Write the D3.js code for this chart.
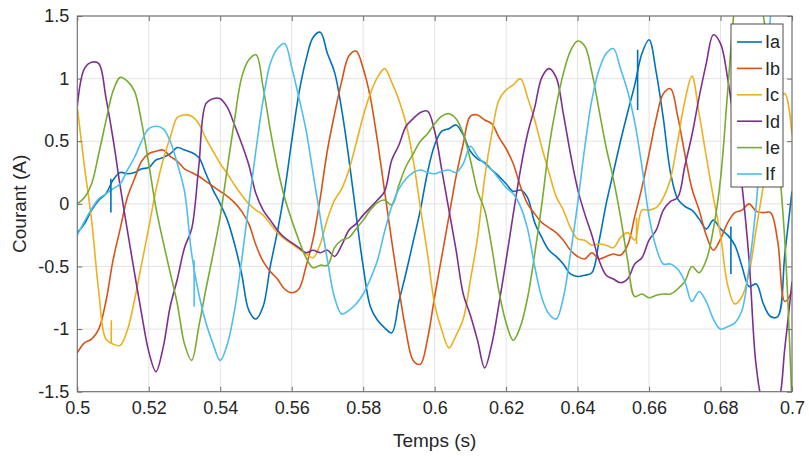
<!DOCTYPE html>
<html>
<head>
<meta charset="utf-8">
<script src="https://cdn.jsdelivr.net/npm/d3@7"></script>
<style>
  html, body { margin: 0; padding: 0; background: #ffffff; }
  svg { display: block; }
  text { font-family: "Liberation Sans", Arial, Helvetica, sans-serif; }
</style>
</head>
<body>
<svg id="chart" width="809" height="457"></svg>
<script>
// ---- data (sampled every 0.002 s from 0.5 s to 0.7 s) ----
const tStart = 0.5;
const tStep = 0.002;
const seriesNames = ["Ia", "Ib", "Ic", "Id", "Ie", "If"];
const seriesColors = ["#0072BD", "#D95319", "#EDB120", "#7E2F8E", "#77AC30", "#4DBEEE"];

const Ia = [-0.23,-0.16,-0.05,0.03,0.08,0.19,0.25,0.24,0.25,0.28,0.29,0.35,0.37,0.40,0.45,0.43,0.41,
  0.37,0.24,0.11,0.00,-0.13,-0.32,-0.56,-0.85,-0.92,-0.82,-0.50,-0.22,0.10,0.50,0.88,1.15,1.33,
  1.37,1.20,1.05,0.75,0.36,-0.08,-0.50,-0.82,-0.93,-0.99,-1.03,-0.78,-0.55,-0.30,-0.05,0.25,0.47,
  0.58,0.60,0.63,0.55,0.42,0.36,0.33,0.27,0.22,0.16,0.10,0.11,0.05,-0.15,-0.27,-0.37,
  -0.42,-0.48,-0.56,-0.58,-0.57,-0.55,-0.30,0.00,0.25,0.50,0.73,0.95,1.20,1.31,1.05,0.68,0.25,
  0.04,-0.02,-0.05,-0.12,-0.20,-0.13,-0.20,-0.25,-0.33,-0.50,-0.66,-0.64,-0.80,-0.90,-0.90,-0.40,0.10];

const Ib = [-1.19,-1.11,-1.08,-1.00,-0.78,-0.45,-0.20,0.05,0.20,0.34,0.40,0.42,0.43,0.38,0.34,0.28,0.25,
  0.22,0.18,0.14,0.10,0.06,0.01,-0.06,-0.16,-0.33,-0.46,-0.54,-0.60,-0.68,-0.71,-0.68,-0.50,-0.28,
  0.05,0.43,0.72,0.98,1.18,1.22,1.08,0.85,0.50,0.10,-0.30,-0.68,-1.02,-1.25,-1.28,-1.08,-0.74,
  -0.42,-0.10,0.22,0.48,0.70,0.71,0.67,0.64,0.53,0.44,0.32,0.14,0.00,-0.08,-0.15,-0.19,
  -0.23,-0.29,-0.37,-0.42,-0.44,-0.39,-0.44,-0.42,-0.40,-0.41,-0.33,-0.10,0.13,0.40,0.68,0.88,0.92,
  0.70,0.40,0.12,-0.05,-0.25,-0.37,-0.28,-0.15,-0.07,-0.05,0.00,-0.06,-0.07,-0.07,-0.30,-0.78,-0.70];

const Ic = [0.77,0.30,-0.13,-0.70,-1.08,-1.12,-1.13,-1.01,-0.77,-0.48,-0.19,0.11,0.35,0.53,0.69,0.71,0.70,
  0.64,0.52,0.42,0.32,0.24,0.15,0.07,0.00,-0.05,-0.09,-0.16,-0.23,-0.28,-0.32,-0.36,-0.40,-0.43,
  -0.32,-0.12,0.03,0.12,0.27,0.48,0.70,0.88,1.01,1.08,0.97,0.83,0.64,0.35,-0.03,-0.40,-0.80,
  -1.01,-1.15,-1.05,-0.92,-0.61,-0.27,0.21,0.56,0.83,0.91,0.95,1.00,0.85,0.67,0.45,0.25,
  0.06,-0.05,-0.19,-0.28,-0.29,-0.33,-0.32,-0.33,-0.35,-0.27,-0.23,-0.29,-0.05,-0.05,-0.03,0.05,0.20,
  0.50,0.82,1.02,0.72,0.38,0.05,-0.25,-0.65,-0.80,-0.74,-0.55,-0.20,0.15,0.50,0.80,0.88,0.55];

const Id = [0.78,1.08,1.13,1.12,0.85,0.52,0.14,-0.21,-0.55,-0.88,-1.18,-1.34,-1.15,-0.82,-0.60,-0.35,-0.20,
  0.30,0.80,0.84,0.84,0.77,0.63,0.48,0.31,0.08,-0.05,-0.13,-0.21,-0.27,-0.31,-0.35,-0.39,-0.37,
  -0.39,-0.37,-0.42,-0.33,-0.21,-0.16,-0.09,-0.03,0.03,0.10,0.35,0.47,0.62,0.68,0.73,0.74,0.58,
  0.27,-0.05,-0.37,-0.72,-0.89,-1.09,-1.31,-1.12,-0.80,-0.45,-0.08,0.27,0.56,0.77,1.01,1.08,
  1.01,0.72,0.40,0.12,-0.08,-0.25,-0.45,-0.57,-0.60,-0.63,-0.60,-0.48,-0.43,-0.29,-0.21,-0.05,0.02,
  0.05,0.30,0.55,0.85,1.12,1.35,1.28,1.00,0.60,0.15,-0.45,-1.30,-1.60,-1.65,-1.60,-1.15,-0.62];

const Ie = [0.00,0.05,0.16,0.40,0.66,0.90,1.01,0.98,0.90,0.65,0.32,-0.03,-0.30,-0.55,-0.80,-1.12,-1.25,
  -0.98,-0.68,-0.40,-0.10,0.29,0.67,1.01,1.15,1.19,0.93,0.59,0.29,0.05,-0.13,-0.29,-0.43,-0.51,
  -0.49,-0.49,-0.35,-0.29,-0.27,-0.20,-0.13,-0.05,0.01,0.03,-0.01,0.15,0.30,0.40,0.50,0.56,0.64,
  0.70,0.72,0.68,0.56,0.35,0.10,-0.05,-0.35,-0.70,-0.95,-1.09,-0.98,-0.75,-0.40,0.00,0.45,
  0.78,1.04,1.22,1.30,1.26,1.05,0.75,0.45,0.20,-0.10,-0.45,-0.74,-0.72,-0.75,-0.73,-0.72,-0.72,
  -0.68,-0.62,-0.50,-0.55,-0.45,-0.20,0.20,0.90,1.60,2.00,2.10,1.90,1.50,1.10,0.45,-0.30,-1.60];

const If = [-0.25,-0.14,-0.04,0.04,0.08,0.12,0.16,0.27,0.37,0.50,0.60,0.62,0.60,0.50,0.32,0.10,-0.40,
  -0.72,-0.95,-1.12,-1.25,-1.12,-0.85,-0.45,0.00,0.43,0.83,1.12,1.24,1.28,1.09,0.85,0.59,0.24,
  -0.11,-0.45,-0.75,-0.88,-0.85,-0.80,-0.72,-0.60,-0.45,-0.22,-0.02,0.12,0.20,0.25,0.27,0.25,0.24,
  0.26,0.27,0.25,0.32,0.46,0.38,0.32,0.27,0.20,0.13,0.08,-0.02,-0.20,-0.50,-0.75,-0.88,
  -0.92,-0.75,-0.40,0.00,0.45,0.83,1.07,1.20,1.24,1.08,0.90,0.65,0.30,-0.10,-0.35,-0.48,-0.48,
  -0.52,-0.62,-0.78,-0.70,-0.78,-0.92,-1.00,-0.98,-0.95,-0.85,-0.50,0.00,0.75,1.50,2.00,2.20,2.20];

// short measurement glitches (vertical spikes)
const spikeSeries = ["Ia", "Ic", "If", "Ic", "Ia", "Ia"];
const spikeTimes  = [0.5094, 0.5095, 0.5327, 0.6565, 0.6568, 0.6829];
const spikeFrom   = [0.20, -1.12, -0.45, -0.11, 1.23, -0.18];
const spikeTo     = [-0.07, -0.93, -0.82, -0.32, 0.75, -0.56];

const xTicks = [0.5, 0.52, 0.54, 0.56, 0.58, 0.6, 0.62, 0.64, 0.66, 0.68, 0.7];
const xTickLabels = ["0.5", "0.52", "0.54", "0.56", "0.58", "0.6", "0.62", "0.64", "0.66", "0.68", "0.7"];
const yTicks = [-1.5, -1, -0.5, 0, 0.5, 1, 1.5];
const yTickLabels = ["-1.5", "-1", "-0.5", "0", "0.5", "1", "1.5"];
const xTitle = "Temps (s)";
const yTitle = "Courant (A)";

// ---- drawing ----
const seriesValues = [Ia, Ib, Ic, Id, Ie, If];
const svg = d3.select("#chart");
const L = 77.3, R = 792, T = 16, B = 391.7;
const x = d3.scaleLinear().domain([0.5, 0.7]).range([L, R]);
const y = d3.scaleLinear().domain([-1.5, 1.5]).range([B, T]);

svg.append("defs").append("clipPath").attr("id", "plotClip")
  .append("rect").attr("x", L).attr("y", T).attr("width", R - L).attr("height", B - T);

// grid
const grid = svg.append("g").attr("stroke", "#e3e3e3").attr("stroke-width", 1);
xTicks.forEach(t => grid.append("line")
  .attr("x1", x(t)).attr("x2", x(t)).attr("y1", T).attr("y2", B));
yTicks.forEach(v => grid.append("line")
  .attr("x1", L).attr("x2", R).attr("y1", y(v)).attr("y2", y(v)));

// series
const plot = svg.append("g").attr("clip-path", "url(#plotClip)");
const line = d3.line().x(d => x(d[0])).y(d => y(d[1])).curve(d3.curveCatmullRom.alpha(0.5));
const straight = d3.line().x(d => x(d[0])).y(d => y(d[1]));
seriesValues.forEach((vals, i) => {
  const pts = vals.map((v, k) => [tStart + k * tStep, v]);
  plot.append("path").datum(pts)
    .attr("fill", "none")
    .attr("stroke", seriesColors[i])
    .attr("stroke-width", 1.6)
    .attr("stroke-linejoin", "round")
    .attr("d", line);
});
spikeSeries.forEach((name, j) => {
  const i = seriesNames.indexOf(name);
  plot.append("path").datum([[spikeTimes[j], spikeFrom[j]], [spikeTimes[j], spikeTo[j]]])
    .attr("fill", "none").attr("stroke", seriesColors[i]).attr("stroke-width", 1.6)
    .attr("d", straight);
});

// axes box and ticks
const axisColor = "#6e6e6e";
svg.append("rect").attr("x", L).attr("y", T).attr("width", R - L).attr("height", B - T)
  .attr("fill", "none").attr("stroke", axisColor).attr("stroke-width", 1.1);

const axB = d3.axisBottom(x).tickValues(xTicks).tickSize(-5).tickPadding(10)
  .tickFormat((d, i) => xTickLabels[i]);
const gB = svg.append("g").attr("transform", `translate(0,${B})`).call(axB);
const axT = d3.axisTop(x).tickValues(xTicks).tickSize(-5).tickFormat("");
const gT = svg.append("g").attr("transform", `translate(0,${T})`).call(axT);
const axLft = d3.axisLeft(y).tickValues(yTicks).tickSize(-5).tickPadding(8)
  .tickFormat((d, i) => yTickLabels[i]);
const gL = svg.append("g").attr("transform", `translate(${L},0)`).call(axLft);
const axRt = d3.axisRight(y).tickValues(yTicks).tickSize(-5).tickFormat("");
const gR = svg.append("g").attr("transform", `translate(${R},0)`).call(axRt);

[gB, gT, gL, gR].forEach(g => {
  g.select(".domain").remove();
  g.selectAll(".tick line").attr("stroke", axisColor).attr("stroke-width", 1);
  g.selectAll(".tick text").attr("fill", "#262626").attr("font-size", "18px")
    .attr("font-family", "'Liberation Sans', Arial, Helvetica, sans-serif");
});

// axis titles
svg.append("text").attr("x", (L + R) / 2).attr("y", 447)
  .attr("text-anchor", "middle").attr("font-size", "19px").attr("fill", "#262626")
  .text(xTitle);
svg.append("text").attr("transform", `translate(26,${(T + B) / 2}) rotate(-90)`)
  .attr("text-anchor", "middle").attr("font-size", "19px").attr("fill", "#262626")
  .text(yTitle);

// legend
const lg = svg.append("g");
lg.append("rect").attr("x", 731).attr("y", 24).attr("width", 52).attr("height", 163)
  .attr("fill", "#ffffff").attr("stroke", "#3a3a3a").attr("stroke-width", 0.9);
seriesNames.forEach((name, i) => {
  const yy = 42 + i * 26.4;
  lg.append("line").attr("x1", 737).attr("x2", 762).attr("y1", yy).attr("y2", yy)
    .attr("stroke", seriesColors[i]).attr("stroke-width", 1.6);
  lg.append("text").attr("x", 765).attr("y", yy).attr("dy", "0.35em")
    .attr("font-size", "18px").attr("fill", "#262626").text(name);
});
</script>
</body>
</html>
